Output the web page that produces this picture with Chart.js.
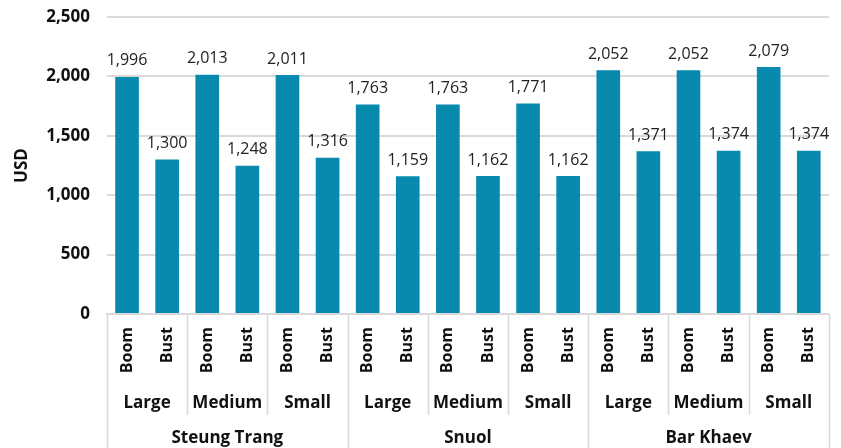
<!DOCTYPE html>
<html>
<head>
<meta charset="utf-8">
<script src="https://cdn.jsdelivr.net/npm/chart.js@4"></script>
<style>
  html, body { margin: 0; padding: 0; background: #fff; }
  #wrap { width: 841px; height: 448px; position: relative; }
</style>
</head>
<body>
<div id="wrap"><canvas id="grafico"></canvas></div>
<script>
// Datos por zona, tamaño y escenario
const zonas = ["Steung Trang", "Snuol", "Bar Khaev"];
const tamanos = ["Large", "Medium", "Small"];
const escenarios = ["Boom", "Bust"];
const valores = [
    1996, 1300, 2013, 1248, 2011, 1316,
    1763, 1159, 1763, 1162, 1771, 1162,
    2052, 1371, 2052, 1374, 2079, 1374
];
const ticksY = [0, 500, 1000, 1500, 2000, 2500];

const FUENTE = "'Open Sans', Lato, sans-serif";
const AZUL = "#078aad";
const GRIS = "#d9d9d9";

// Etiquetas del nivel inferior: Boom / Bust repetidos
const etiquetas = [];
zonas.forEach(() => tamanos.forEach(() => escenarios.forEach(e => etiquetas.push(e))));

const fmt = v => v.toLocaleString("en-US");

// Dibuja los valores sobre cada barra
const valoresPlugin = {
    id: "valores",
    afterDatasetsDraw(chart) {
        const ctx = chart.ctx;
        const meta = chart.getDatasetMeta(0);
        ctx.save();
        ctx.font = `400 16px ${FUENTE}`;
        ctx.fillStyle = "#222";
        ctx.textAlign = "center";
        ctx.textBaseline = "middle";
        meta.data.forEach((bar, i) => {
            ctx.fillText(fmt(valores[i]), bar.x, bar.y - 16);
        });
        ctx.restore();
    }
};

// Niveles de categoría (tamaño y zona) con sus separadores
const nivelesPlugin = {
    id: "niveles",
    afterDraw(chart) {
        const ctx = chart.ctx;
        const area = chart.chartArea;
        const n = etiquetas.length;
        const ancho = (area.right - area.left) / n;
        const y0 = area.bottom;
        ctx.save();
        ctx.strokeStyle = GRIS;
        ctx.lineWidth = 1.5;

        const porTamano = escenarios.length;
        const porZona = tamanos.length * porTamano;
        for (let k = 0; k <= n; k += porTamano) {
            const x = Math.round(area.left + k * ancho) + 0.5;
            const fin = k % porZona === 0 ? chart.height : y0 + 101;
            ctx.beginPath();
            ctx.moveTo(x, y0);
            ctx.lineTo(x, fin);
            ctx.stroke();
        }

        ctx.fillStyle = "#111";
        ctx.textAlign = "center";
        ctx.textBaseline = "middle";
        ctx.font = `700 17px ${FUENTE}`;
        zonas.forEach((z, zi) => {
            tamanos.forEach((t, ti) => {
                const k = zi * porZona + ti * porTamano;
                const cx = area.left + (k + porTamano / 2) * ancho;
                ctx.fillText(t, cx, y0 + 89);
            });
            const cz = area.left + (zi * porZona + porZona / 2) * ancho;
            ctx.fillText(z, cz, y0 + 124);
        });
        ctx.restore();
    }
};

new Chart(document.getElementById("grafico"), {
    type: "bar",
    data: {
        labels: etiquetas,
        datasets: [{
            label: "USD",
            data: valores,
            backgroundColor: AZUL,
            barPercentage: 0.59,
            categoryPercentage: 1
        }]
    },
    options: {
        responsive: true,
        maintainAspectRatio: false,
        animation: false,
        layout: { padding: { top: 0, right: 1, left: 0, bottom: 0 } },
        plugins: {
            legend: { display: false },
            tooltip: { enabled: false }
        },
        scales: {
            x: {
                grid: { display: false, drawTicks: false },
                border: { color: GRIS, width: 2 },
                ticks: {
                    minRotation: 90,
                    maxRotation: 90,
                    padding: 13,
                    color: "#111",
                    font: { family: FUENTE, size: 16, weight: "700" }
                },
                afterFit: s => { s.height = 134; s.paddingTop = 0; }
            },
            y: {
                min: 0,
                max: 2500,
                afterBuildTicks: s => { s.ticks = ticksY.map(v => ({ value: v })); },
                grid: { color: GRIS, lineWidth: 2, drawTicks: false },
                border: { display: false },
                ticks: {
                    padding: 17,
                    color: "#111",
                    font: { family: FUENTE, size: 17, weight: "700" },
                    callback: v => fmt(v)
                },
                title: {
                    display: true,
                    text: "USD",
                    color: "#111",
                    padding: { top: 12, bottom: 0 },
                    font: { family: FUENTE, size: 17, weight: "700" }
                },
                afterFit: s => { s.width = 107; s.paddingTop = 17; s.paddingBottom = 0; }
            }
        }
    },
    plugins: [valoresPlugin, nivelesPlugin]
});
</script>
</body>
</html>
